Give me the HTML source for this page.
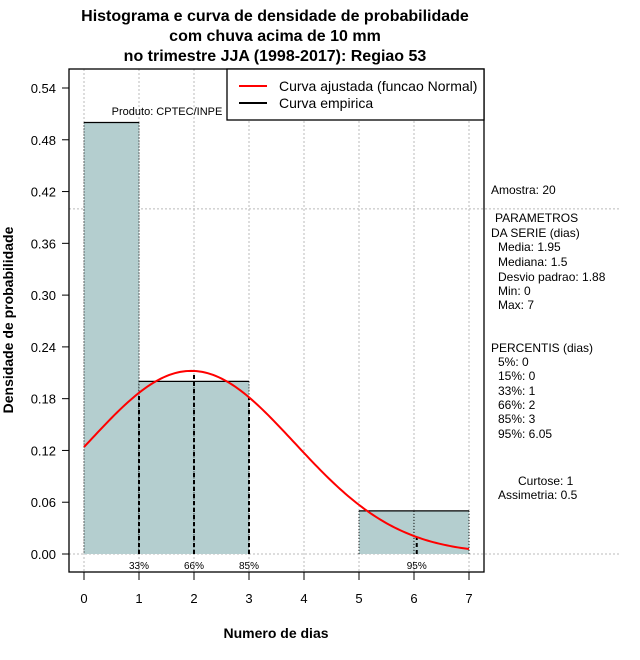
<!DOCTYPE html>
<html><head><meta charset="utf-8"><style>
html,body{margin:0;padding:0;background:#fff;}
svg{display:block;font-family:"Liberation Sans",Arial,sans-serif;}
</style></head><body>
<svg id="chart" width="640" height="660" viewBox="0 0 640 660" xmlns="http://www.w3.org/2000/svg">
<g font-weight="bold" font-size="16" text-anchor="middle">
<text x="275" y="21">Histograma e curva de densidade de probabilidade</text>
<text x="275" y="41">com chuva acima de 10 mm</text>
<text x="275" y="61">no trimestre JJA (1998-2017): Regiao 53</text>
</g>
<g id="grid"></g>
<g id="bars"></g>
<g id="pct"></g>
<path id="curve" fill="none" stroke="#ff0000" stroke-width="2"/>
<rect x="69" y="69" width="415" height="503" fill="none" stroke="#000" stroke-width="1.3"/>
<g id="axes" font-size="13"></g>
<text x="276" y="638" font-size="14" font-weight="bold" text-anchor="middle">Numero de dias</text>
<text transform="translate(13,320) rotate(-90)" font-size="14" font-weight="bold" text-anchor="middle">Densidade de probabilidade</text>
<text x="167" y="115" font-size="11" text-anchor="middle">Produto: CPTEC/INPE</text>
<g>
<rect x="227" y="69" width="257" height="51" fill="#fff" stroke="#000" stroke-width="1.3"/>
<line x1="239" y1="86" x2="267" y2="86" stroke="#ff0000" stroke-width="2"/>
<line x1="239" y1="103" x2="267" y2="103" stroke="#000" stroke-width="2"/>
<text x="279" y="91" font-size="14">Curva ajustada (funcao Normal)</text>
<text x="279" y="108" font-size="14">Curva empirica</text>
</g>
<g font-size="12">
<text x="491" y="194">Amostra: 20</text>
<text x="495" y="222">PARAMETROS</text>
<text x="491" y="237">DA SERIE (dias)</text>
<text x="498" y="251">Media: 1.95</text>
<text x="498" y="266">Mediana: 1.5</text>
<text x="498" y="281">Desvio padrao: 1.88</text>
<text x="498" y="295">Min: 0</text>
<text x="498" y="309">Max: 7</text>
<text x="491" y="352">PERCENTIS (dias)</text>
<text x="498" y="366">5%: 0</text>
<text x="498" y="380">15%: 0</text>
<text x="498" y="395">33%: 1</text>
<text x="498" y="409">66%: 2</text>
<text x="498" y="423">85%: 3</text>
<text x="498" y="438">95%: 6.05</text>
<text x="518" y="485">Curtose: 1</text>
<text x="498" y="499">Assimetria: 0.5</text>
</g>
</svg>
<script>
const binStarts=[0,1,2,3,4,5,6];
const densities=[0.5,0.2,0.2,0,0,0.05,0.05];
const yTicks=[0,0.06,0.12,0.18,0.24,0.30,0.36,0.42,0.48,0.54];
const yTickLabels=["0.00","0.06","0.12","0.18","0.24","0.30","0.36","0.42","0.48","0.54"];
const xTicks=[0,1,2,3,4,5,6,7];
const percentileValues=[1,2,3,6.05];
const percentileLabels=["33%","66%","85%","95%"];
const fitMean=[1.95];
const fitSd=[1.88];
const NS="http://www.w3.org/2000/svg";
const X=v=>84+v*55;
const Y=v=>554-v*(466/0.54);
function mk(t,a,p){const e=document.createElementNS(NS,t);for(const k in a)e.setAttribute(k,a[k]);p.appendChild(e);return e;}
function dens(x){const m=fitMean[0],s=fitSd[0];return Math.exp(-0.5*((x-m)/s)**2)/(s*Math.sqrt(2*Math.PI));}
const grid=document.getElementById('grid');
xTicks.forEach(t=>{const l=mk('line',{x1:X(t),x2:X(t),y1:69,y2:572,stroke:'#bbb','stroke-dasharray':'2,2'},grid);

});
[0,0.4].forEach(v=>{const l=mk('line',{x1:69,x2:620,y1:Y(v),y2:Y(v),stroke:'#bbb','stroke-dasharray':'2,2'},grid);

});
const bars=document.getElementById('bars');
binStarts.forEach((b,i)=>{if(densities[i]<=0)return;
const x0=X(b),x1=X(b+1),y=Y(densities[i]),y0=Y(0);
const r=mk('rect',{x:x0,y:y,width:x1-x0,height:y0-y,fill:'#b4cecf'},bars);


mk('line',{x1:x0,x2:x1,y1:y,y2:y,stroke:'#000','stroke-width':1.3},bars);
mk('line',{x1:x0,x2:x0,y1:y,y2:y0,stroke:'#000','stroke-dasharray':'1,2'},bars);
mk('line',{x1:x1,x2:x1,y1:y,y2:y0,stroke:'#000','stroke-dasharray':'1,2'},bars);});
const pct=document.getElementById('pct');
percentileValues.forEach((p,i)=>{const l=mk('line',{x1:X(p),x2:X(p),y1:Y(0),y2:Y(dens(p)),stroke:'#000','stroke-width':2,'stroke-dasharray':'4,3'},pct);


const t=mk('text',{x:X(p),y:569,'font-size':10,'text-anchor':'middle'},pct);t.textContent=percentileLabels[i];

});
let d='';for(let k=0;k<=140;k++){const x=7*k/140;d+=(k?'L':'M')+X(x).toFixed(2)+','+Y(dens(x)).toFixed(2);}
document.getElementById('curve').setAttribute('d',d);
const ax=document.getElementById('axes');
yTicks.forEach((t,i)=>{mk('line',{x1:62,x2:69,y1:Y(t),y2:Y(t),stroke:'#000'},ax);
const e=mk('text',{x:56,y:Y(t)+5,'text-anchor':'end'},ax);e.textContent=yTickLabels[i];

});
xTicks.forEach(t=>{mk('line',{x1:X(t),x2:X(t),y1:572,y2:580,stroke:'#000'},ax);
const e=mk('text',{x:X(t),y:603,'text-anchor':'middle'},ax);e.textContent=t;

});
</script>
</body></html>
